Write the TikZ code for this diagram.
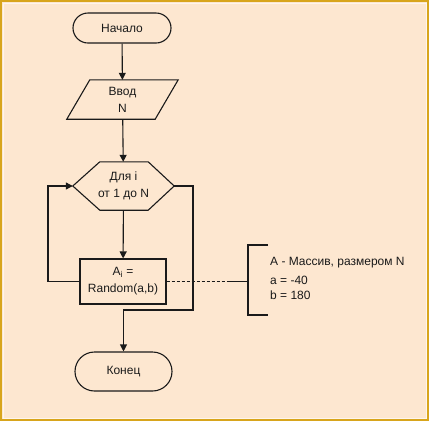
\documentclass[tikz,border=0pt]{standalone}
\usepackage{fontspec}
\setmainfont{Liberation Sans}
\usetikzlibrary{arrows.meta,shapes.misc,calc}
\definecolor{bgcol}{HTML}{FDE7D0}
\definecolor{framecol}{HTML}{D8A51C}
\definecolor{ink}{HTML}{1A1A1A}
\tikzset{
  line/.style={draw=ink,line width=1.1bp},
  arr/.style={line,-{Triangle[length=7bp,width=7bp]}},
  txt/.style={font=\fontsize{12bp}{17bp}\selectfont,text=ink,align=center,inner sep=0pt},
  term/.style={txt,line,rounded rectangle},
}
\begin{document}
\begin{tikzpicture}[x=1bp,y=-1bp]
\fill[bgcol] (0,0) rectangle (429,421);
\useasboundingbox (0,0) rectangle (429,421);
\draw[framecol,line width=2bp] (1,1) rectangle (428,420);
\draw[white!60!bgcol,line width=0.8bp] (3,3) rectangle (426,418);

% nodes
\node[term,minimum width=98bp,minimum height=30bp] (start) at (122,28) {Начало};
\node[txt,minimum width=111bp,minimum height=39bp] (in) at (122.5,99.5) {Ввод\\N};
\draw[line] ([xshift=23bp]in.north west) -- (in.north east) -- ([xshift=-23bp]in.south east) -- (in.south west) -- cycle;
\node[txt,minimum width=101bp,minimum height=48bp] (loop) at (123.5,186) {Для i\\от 1 до N};
\draw[line] (loop.west) -- ([xshift=27bp]loop.north west) -- ([xshift=-26bp]loop.north east) -- (loop.east) -- ([xshift=-26bp]loop.south east) -- ([xshift=27bp]loop.south west) -- cycle;
\node[txt,line,minimum width=86bp,minimum height=45bp] (box) at (123,281.5) {A\textsubscript{i} =\\Random(a,b)};
\node[term,minimum width=97bp,minimum height=39bp] (end) at (123.5,371.5) {Конец};

% connectors
\draw[arr] (start) -- (in);
\draw[arr] (in) -- (loop);
\draw[arr] (loop) -- (box);
\coordinate (lft) at (48,281.5);
\draw[arr] (box.west) -- (lft) |- (loop.west);
\coordinate (turn) at (193,310);
\draw[arr] (loop.east) -| (turn) -| (end.north);

% comment
\coordinate (dashend) at (230,281.5);
\coordinate (brmid) at (248,281.5);
\draw[line,dashed,dash pattern=on 3bp off 2bp,line width=0.9bp] (box.east) -- (dashend);
\draw[line] (dashend) -- (brmid);
\coordinate (brtop) at (248,245);
\coordinate (brbot) at (248,315);
\draw[line,line width=1.6bp] ($(brtop)+(20,0)$) -- (brtop) -- (brbot) -- ($(brbot)+(20,0)$);
\node[txt,align=left,anchor=north west,font=\fontsize{12bp}{15bp}\selectfont] (note) at (270,257) {A - Массив, размером N\\[4bp]a = -40\\b = 180};
\end{tikzpicture}
\end{document}
